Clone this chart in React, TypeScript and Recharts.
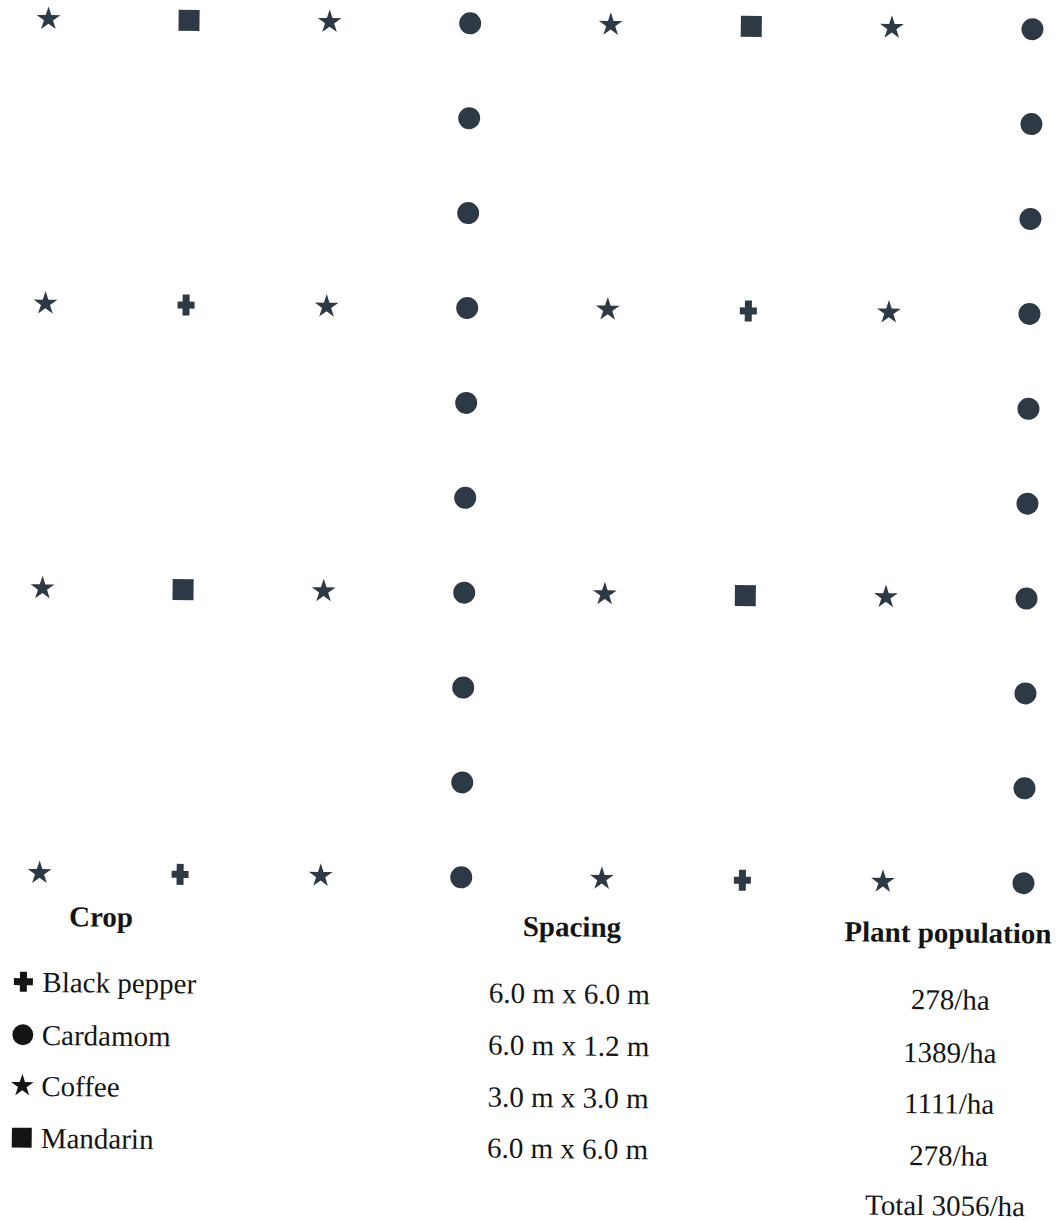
import { ScatterChart, Scatter, XAxis, YAxis, Symbols } from "recharts";

// planting grid: x = column across the plot, y = row down the plot
const coffee = [
  { x: 0, y: 0 }, { x: 2, y: 0 }, { x: 4, y: 0 }, { x: 6, y: 0 },
  { x: 0, y: 3 }, { x: 2, y: 3 }, { x: 4, y: 3 }, { x: 6, y: 3 },
  { x: 0, y: 6 }, { x: 2, y: 6 }, { x: 4, y: 6 }, { x: 6, y: 6 },
  { x: 0, y: 9 }, { x: 2, y: 9 }, { x: 4, y: 9 }, { x: 6, y: 9 },
];
const mandarin = [
  { x: 1, y: 0 }, { x: 5, y: 0 },
  { x: 1, y: 6 }, { x: 5, y: 6 },
];
const blackPepper = [
  { x: 1, y: 3 }, { x: 5, y: 3 },
  { x: 1, y: 9 }, { x: 5, y: 9 },
];
const cardamom = [
  { x: 3, y: 0 }, { x: 3, y: 1 }, { x: 3, y: 2 }, { x: 3, y: 3 }, { x: 3, y: 4 },
  { x: 3, y: 5 }, { x: 3, y: 6 }, { x: 3, y: 7 }, { x: 3, y: 8 }, { x: 3, y: 9 },
  { x: 7, y: 0 }, { x: 7, y: 1 }, { x: 7, y: 2 }, { x: 7, y: 3 }, { x: 7, y: 4 },
  { x: 7, y: 5 }, { x: 7, y: 6 }, { x: 7, y: 7 }, { x: 7, y: 8 }, { x: 7, y: 9 },
];

// table below the layout
const crops = ["Black pepper", "Cardamom", "Coffee", "Mandarin"];
const cropSymbols = ["cross", "circle", "star", "square"];
const spacings = ["6.0 m x 6.0 m", "6.0 m x 1.2 m", "3.0 m x 3.0 m", "6.0 m x 6.0 m"];
const populations = ["278/ha", "1389/ha", "1111/ha", "278/ha"];
const totalLabel = "Total 3056/ha";

const INK = "#2e3946";
const TEXT = "#141414";
const SIZES: Record<string, number> = { star: 175, square: 440, cross: 215, circle: 380 };

// the scan is a little taller than wide, so the pepper cross is drawn by hand
const Plus = ({ cx, cy, w, h, t, fill }: any) => (
  <path
    d={`M${cx - t / 2},${cy - h / 2}h${t}v${(h - t) / 2}h${(w - t) / 2}v${t}h${-(w - t) / 2}v${(h - t) / 2}h${-t}v${-(h - t) / 2}h${-(w - t) / 2}v${-t}h${(w - t) / 2}z`}
    fill={fill}
  />
);

const marker = (type: string) => (props: any) => {
  if (props.cx == null || props.cy == null) return <g />;
  if (type === "cross") return <Plus cx={props.cx} cy={props.cy} w={17} h={21} t={7} fill={INK} />;
  return <Symbols cx={props.cx} cy={props.cy} type={type as any} size={SIZES[type]} fill={INK} />;
};

const font = { fontFamily: "'Liberation Serif', 'Times New Roman', serif", fontSize: 29, fill: TEXT };
const leftBase = [997, 1050, 1101, 1153];
const midBase = [1003, 1055, 1107, 1158];
const rightBase = [1005, 1058, 1109, 1161];

export default function App() {
  return (
    <div style={{ position: "absolute", left: 0, top: 0, width: 1061, height: 1221, background: "#fff", overflow: "hidden" }}>
      <div style={{ position: "absolute", left: 0, top: 0, width: 1061, height: 1221, transform: "rotate(0.6deg)", transformOrigin: "530px 450px" }}>
        <ScatterChart width={1061} height={910} margin={{ top: 24, right: 33, bottom: 32, left: 44 }}>
          <XAxis type="number" dataKey="x" domain={[0, 7]} hide />
          <YAxis type="number" dataKey="y" domain={[0, 9]} reversed hide />
          <Scatter data={coffee} shape={marker("star")} isAnimationActive={false} />
          <Scatter data={mandarin} shape={marker("square")} isAnimationActive={false} />
          <Scatter data={blackPepper} shape={marker("cross")} isAnimationActive={false} />
          <Scatter data={cardamom} shape={marker("circle")} isAnimationActive={false} />
        </ScatterChart>
        <svg width={1061} height={1221} style={{ position: "absolute", left: 0, top: 0 }}>
          <text x={74} y={931} {...font} fontWeight="bold">Crop</text>
          <text x={577} y={936} {...font} fontWeight="bold" textAnchor="middle">Spacing</text>
          <text x={953} y={938} {...font} fontWeight="bold" textAnchor="middle">Plant population</text>
          {crops.map((c, i) =>
            <g key={c}>
              {cropSymbols[i] === "cross" ? (
                <Plus cx={29} cy={leftBase[i] - 10} w={19} h={20} t={7} fill={TEXT} />
              ) : (
                <Symbols cx={29} cy={leftBase[i] - 10} type={cropSymbols[i] as any} size={SIZES[cropSymbols[i]] * 0.9} fill={TEXT} />
              )}
              <text x={48} y={leftBase[i]} {...font}>{c}</text>
            </g>
          )}
          {spacings.map((s, i) => (
            <text key={i} x={575} y={midBase[i]} {...font} textAnchor="middle">{s}</text>
          ))}
          {populations.map((p, i) => (
            <text key={i} x={956} y={rightBase[i]} {...font} textAnchor="middle">{p}</text>
          ))}
          <text x={953} y={1211} {...font} textAnchor="middle">{totalLabel}</text>
        </svg>
      </div>
    </div>
  );
}
